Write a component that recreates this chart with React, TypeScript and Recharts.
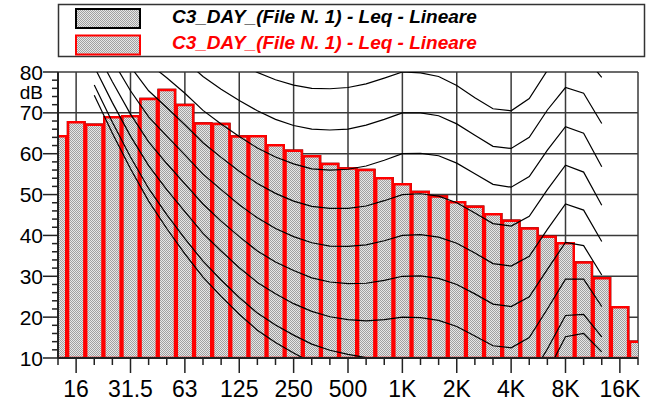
import React from 'react';
import { ComposedChart, Bar, Line, XAxis, YAxis, CartesianGrid } from 'recharts';

// 1/3 octave bands, 12.5 Hz .. 20 kHz
const BANDS = [
  '12.5', '16', '20', '25', '31.5', '40', '50', '63', '80', '100', '125', '160', '200', '250', '315', '400',
  '500', '630', '800', '1K', '1.25K', '1.6K', '2K', '2.5K', '3.15K', '4K', '5K', '6.3K', '8K', '10K',
  '12.5K', '16K', '20K',
];
const OCTAVE_LABELS = ['16', '31.5', '63', '125', '250', '500', '1K', '2K', '4K', '8K', '16K'];

// Leq per band (dB)
const LEQ = [
  64.3, 67.7, 67.1, 68.9, 69.2, 73.4, 75.6, 71.9, 67.4, 67.3, 64.2, 64.3, 62.1, 60.7, 59.4, 57.5,
  56.4, 56.0, 54.0, 52.5, 50.6, 49.5, 48.1, 47.0, 45.2, 43.6, 41.7, 39.7, 38.1, 33.4, 29.5, 22.4, 14.0,
];

// isophonic curves, defined from 20 Hz (band index 2) to 12.5 kHz (band index 30)
const ISO_START = 2;
const MAF = [74.3, 65.0, 56.3, 48.4, 41.7, 35.5, 29.8, 25.1, 20.7, 16.8, 13.8, 11.2, 8.9, 7.2, 6.0, 5.0, 4.4, 4.2, 3.7, 2.6, 1.0, -1.2, -3.6, -3.9, -1.1, 6.6, 15.2, 16.0, 11.5];
const PHON_10 = [76.8, 67.7, 59.2, 51.5, 45.1, 39.2, 33.7, 29.1, 24.8, 21.0, 18.1, 15.6, 13.4, 11.9, 10.9, 10.1, 9.9, 10.0, 9.7, 8.7, 7.2, 5.0, 2.6, 2.2, 4.8, 12.2, 20.4, 20.7, 15.2];
const PHON_20 = [81.3, 72.5, 64.3, 57.1, 51.2, 45.8, 40.5, 36.2, 32.1, 28.5, 25.7, 23.3, 21.4, 20.1, 19.4, 19.1, 19.4, 20.0, 19.9, 19.2, 17.7, 15.4, 13.0, 12.5, 15.0, 22.0, 29.3, 29.3, 22.6];
const PHON_30 = [86.0, 77.6, 69.7, 62.9, 57.6, 52.6, 47.7, 43.5, 39.7, 36.2, 33.5, 31.4, 29.6, 28.6, 28.2, 28.3, 29.0, 30.0, 30.1, 29.5, 28.0, 25.7, 23.2, 22.6, 25.0, 31.7, 38.3, 37.5, 30.3];
const PHON_40 = [91.0, 82.9, 75.4, 69.0, 64.3, 59.7, 55.0, 51.2, 47.5, 44.3, 41.7, 39.7, 38.2, 37.4, 37.3, 37.7, 38.7, 40.0, 40.2, 39.6, 38.1, 35.7, 33.1, 32.5, 34.9, 41.5, 47.7, 46.2, 38.5];
const PHON_50 = [96.2, 88.5, 81.3, 75.4, 71.3, 67.1, 62.7, 59.1, 55.7, 52.7, 50.3, 48.4, 47.1, 46.6, 46.6, 47.2, 48.5, 50.0, 50.2, 49.6, 48.0, 45.5, 42.9, 42.3, 44.7, 51.2, 57.2, 55.5, 47.4];
const PHON_60 = [101.7, 94.4, 87.6, 82.1, 78.6, 74.8, 70.6, 67.3, 64.2, 61.4, 59.2, 57.5, 56.3, 56.0, 56.2, 57.0, 58.4, 60.0, 60.1, 59.5, 57.7, 55.1, 52.5, 51.8, 54.4, 60.9, 66.6, 65.0, 56.8];
const PHON_70 = [107.0, 100.0, 94.3, 89.2, 86.4, 82.8, 78.9, 75.8, 73.0, 70.5, 68.4, 66.9, 66.0, 65.8, 66.0, 67.0, 68.4, 70.0, 70.0, 69.3, 67.3, 64.5, 61.8, 61.3, 64.0, 70.7, 76.2, 74.8, 67.4];
const PHON_80 = [113.0, 106.0, 100.0, 96.6, 94.6, 91.1, 87.4, 84.7, 82.2, 79.9, 78.1, 76.8, 76.0, 75.9, 76.2, 77.1, 78.5, 80.0, 79.8, 78.9, 76.7, 73.7, 71.0, 70.5, 73.5, 80.4, 85.7, 84.0, 78.7];
const CURVES = [MAF, PHON_10, PHON_20, PHON_30, PHON_40, PHON_50, PHON_60, PHON_70, PHON_80];

const Y_LABELS = [10, 20, 30, 40, 50, 60, 70, 80];
const Y_TICKS = Array.from({ length: 36 }, (_, k) => 10 + k * 2);
const X_TICKS = BANDS.map((_, i) => i);
const GRID_X = [...OCTAVE_LABELS.map((l) => BANDS.indexOf(l)), BANDS.length - 1];
const GRID_Y = [20, 30, 40, 50, 60, 70, 80];

const SERIES = [
  { name: 'C3_DAY_(File N. 1) - Leq - Lineare', stroke: '#000000' },
  { name: 'C3_DAY_(File N. 1) - Leq - Lineare', stroke: '#ff0000' },
];

const data = BANDS.map((band, i) => {
  const row: Record<string, number | string> = { i, band, leq: LEQ[i] };
  CURVES.forEach((c, k) => {
    const v = c[i - ISO_START];
    if (v !== undefined) row['c' + k] = v;
  });
  return row;
});

const FONT = '"Liberation Sans", Arial, sans-serif';
const W = 648;
const H = 403;
const MARGIN = { top: 72, right: 10, bottom: 0, left: 0 };
const Y_AXIS_W = 58;
const X_AXIS_H = 45;
const BAR_SIZE = (W - MARGIN.right - Y_AXIS_W) / (BANDS.length - 1);

const XTick = ({ x, y, payload }: any) => {
  const label = BANDS[payload.value];
  const major = OCTAVE_LABELS.includes(label);
  return (
    <g>
      <line x1={x} y1={y} x2={x} y2={y + (major ? 15 : 7)} stroke="#222" strokeWidth={1.5} />
      {major && (
        <text x={x} y={y + 39} textAnchor="middle" fontSize={23} fontFamily={FONT} fill="#000">
          {label}
        </text>
      )}
    </g>
  );
};

const YTick = ({ x, y, payload }: any) => {
  const v = payload.value;
  const major = Y_LABELS.includes(v);
  return (
    <g>
      <line x1={x - (major ? 15 : 6)} y1={y} x2={x} y2={y} stroke="#222" strokeWidth={1.5} />
      {major && (
        <text x={x - 15} y={y} dy="0.36em" textAnchor="end" fontSize={21} fontFamily={FONT} fill="#000">
          {v}
        </text>
      )}
      {v === 80 && (
        <text x={x - 15} y={y + 20} dy="0.36em" textAnchor="end" fontSize={19} fontFamily={FONT} fill="#000">
          dB
        </text>
      )}
    </g>
  );
};

const Legend = () => (
  <svg width={W} height={62} style={{ position: 'absolute', left: 0, top: 0 }}>
    <defs>
      <pattern id="dotsLegend" width={2} height={2} patternUnits="userSpaceOnUse">
        <rect width={2} height={2} fill="#e6e6e6" />
        <rect width={1} height={1} fill="#a0a0a0" />
        <rect x={1} y={1} width={1} height={1} fill="#a0a0a0" />
      </pattern>
    </defs>
    <rect x={58.5} y={4.5} width={586} height={52} fill="#fff" stroke="#333" strokeWidth={1.5} />
    {SERIES.map((s, k) => (
      <g key={k}>
        <rect x={76} y={9 + k * 26.5} width={64} height={19} fill="url(#dotsLegend)" stroke={s.stroke} strokeWidth={2} />
        <text
          x={172}
          y={23 + k * 25.5}
          fontSize={19}
          fontWeight="bold"
          fontStyle="italic"
          fontFamily={FONT}
          fill={s.stroke}
        >
          {s.name}
        </text>
      </g>
    ))}
  </svg>
);

export default function App() {
  return (
    <div style={{ position: 'relative', width: W, height: H, background: '#fff' }}>
      <style>{'body{margin:0}'}</style>
      <ComposedChart width={W} height={H} data={data} margin={MARGIN} barCategoryGap={0} barGap={0}>
        <defs>
          <pattern id="dots" width={2} height={2} patternUnits="userSpaceOnUse">
            <rect width={2} height={2} fill="#e6e6e6" />
            <rect width={1} height={1} fill="#a0a0a0" />
            <rect x={1} y={1} width={1} height={1} fill="#a0a0a0" />
          </pattern>
        </defs>
        <XAxis xAxisId="g" type="number" dataKey="i" domain={[0, BANDS.length - 1]} ticks={GRID_X} allowDataOverflow hide />
        <YAxis yAxisId="g" type="number" domain={[10, 80]} ticks={GRID_Y} allowDataOverflow hide />
        <CartesianGrid xAxisId="g" yAxisId="g" stroke="#3a3a3a" strokeWidth={1.5} />
        <XAxis
          xAxisId="a"
          type="number"
          dataKey="i"
          domain={[0, BANDS.length - 1]}
          ticks={X_TICKS}
          interval={0}
          allowDataOverflow
          height={X_AXIS_H}
          tickSize={0}
          tickMargin={0}
          tick={<XTick />}
          axisLine={{ stroke: '#222', strokeWidth: 2 }}
        />
        <XAxis xAxisId="b" type="number" dataKey="i" domain={[0, BANDS.length - 1]} allowDataOverflow hide />
        <YAxis
          type="number"
          domain={[10, 80]}
          ticks={Y_TICKS}
          interval={0}
          allowDataOverflow
          width={Y_AXIS_W}
          tickSize={0}
          tickMargin={0}
          tick={<YTick />}
          axisLine={{ stroke: '#222', strokeWidth: 2 }}
        />
        <Bar
          xAxisId="a"
          dataKey="leq"
          name={SERIES[0].name}
          fill="url(#dots)"
          stroke={SERIES[0].stroke}
          strokeWidth={2.5}
          barSize={BAR_SIZE}
          isAnimationActive={false}
        />
        <Bar
          xAxisId="b"
          dataKey="leq"
          name={SERIES[1].name}
          fill="url(#dots)"
          stroke={SERIES[1].stroke}
          strokeWidth={2.5}
          barSize={BAR_SIZE}
          isAnimationActive={false}
        />
        {CURVES.map((_, k) => (
          <Line
            key={k}
            xAxisId="a"
            dataKey={'c' + k}
            type="linear"
            stroke="#000"
            strokeWidth={1.2}
            dot={false}
            activeDot={false}
            isAnimationActive={false}
          />
        ))}
      </ComposedChart>
      <Legend />
    </div>
  );
}
